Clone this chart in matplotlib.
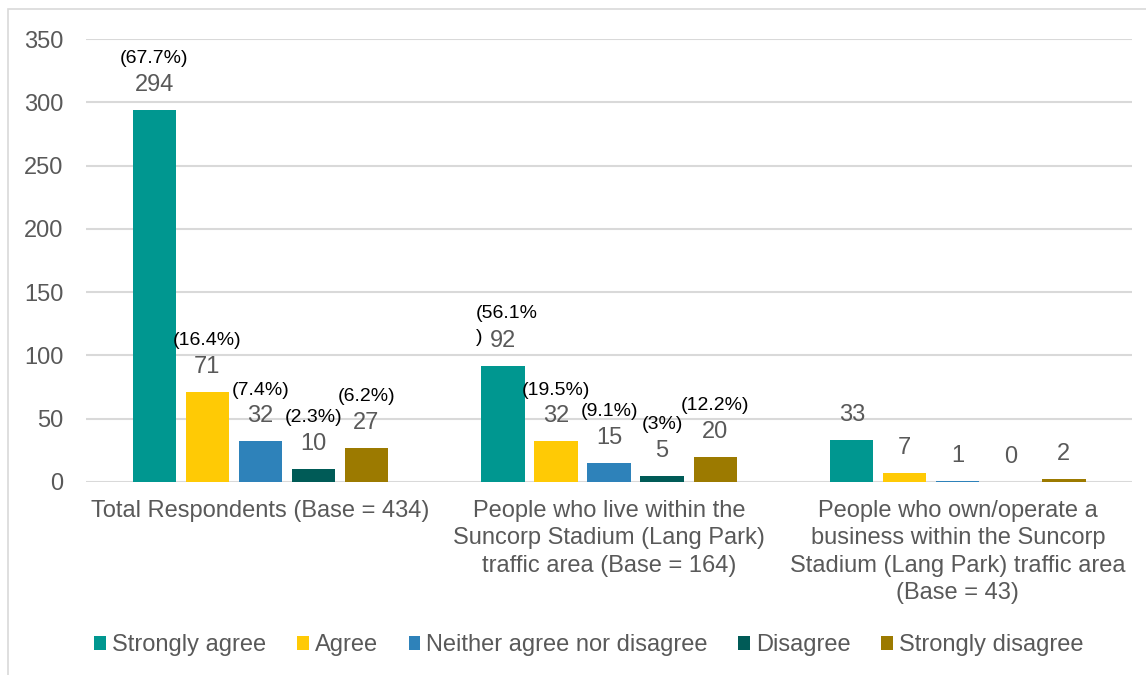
import numpy as np
import matplotlib.pyplot as plt
from matplotlib.patches import Rectangle

# -------------------
# DATA
# -------------------
groups = [
    "Total Respondents (Base = 434)",
    "People who live within the\nSuncorp Stadium (Lang Park)\ntraffic area (Base = 164)",
    "People who own/operate a\nbusiness within the Suncorp\nStadium (Lang Park) traffic area\n(Base = 43)",
]
responses = ["Strongly agree", "Agree", "Neither agree nor disagree",
             "Disagree", "Strongly disagree"]
counts = {
    "Strongly agree": [294, 92, 33],
    "Agree": [71, 32, 7],
    "Neither agree nor disagree": [32, 15, 1],
    "Disagree": [10, 5, 0],
    "Strongly disagree": [27, 20, 2],
}
percents = {
    "Strongly agree": ["(67.7%)", "(56.1%", None],
    "Agree": ["(16.4%)", "(19.5%)", None],
    "Neither agree nor disagree": ["(7.4%)", "(9.1%)", None],
    "Disagree": ["(2.3%)", "(3%)", None],
    "Strongly disagree": ["(6.2%)", "(12.2%)", None],
}
colors = ["#009790", "#FFCA05", "#2E82BA", "#005B57", "#9C7A00"]

plt.rcParams["font.family"] = ["Liberation Sans", "DejaVu Sans"]

# -------------------
# PLOT
# -------------------
fig = plt.figure(figsize=(11.46, 6.75), dpi=100)
ax = fig.add_axes([0.075, 0.286, 0.913, 0.656])

# light frame at top/left like the original chart box
fig.patches.append(Rectangle((8 / 1146, -0.1), 1.2, 1 - 9 / 675 + 0.1,
                             transform=fig.transFigure, fill=False,
                             edgecolor="#D9D9D9", linewidth=1.2))

x = np.arange(len(groups))
width = 0.124
step = 0.152
grey = "#595959"

for i, (resp, col) in enumerate(zip(responses, colors)):
    xs = x + (i - 2) * step
    vals = counts[resp]
    ax.bar(xs, vals, width, color=col, label=resp, zorder=3)
    for j, (xx, v) in enumerate(zip(xs, vals)):
        ax.annotate(str(v), (xx, v), xytext=(0, 18), textcoords="offset points",
                    ha="center", va="center", fontsize=17, color=grey)
        p = percents[resp][j]
        if p is None:
            continue
        if p.endswith(")"):
            ax.annotate(p, (xx, v), xytext=(0, 37), textcoords="offset points",
                        ha="center", va="center", fontsize=14, color="black")
        else:
            # label wraps onto a second line in the original
            ax.annotate(p + "\n)", (xx - width / 2, v), xytext=(-4.3, 29),
                        textcoords="offset points", ha="left", va="center",
                        fontsize=14, color="black", linespacing=1.5)

ax.set_xlim(-0.5, 2.5)
ax.set_ylim(0, 350)
ax.set_yticks(range(0, 351, 50))
ax.set_xticks(x)
ax.set_xticklabels(groups, fontsize=17, color=grey, linespacing=1.31)
ax.tick_params(axis="y", labelsize=17, labelcolor=grey, length=0, pad=16)
ax.tick_params(axis="x", length=0, pad=13)
ax.grid(axis="y", color="#D9D9D9", linewidth=1.5, zorder=0)
for s in ax.spines.values():
    s.set_visible(False)

leg = fig.legend(loc="center", bbox_to_anchor=(0.514, 0.044), ncol=5,
                 frameon=False, fontsize=17, handlelength=0.5,
                 handleheight=0.5, handletextpad=0.25, columnspacing=1.3)
for t in leg.get_texts():
    t.set_color(grey)

plt.savefig("out.png", dpi=100)
